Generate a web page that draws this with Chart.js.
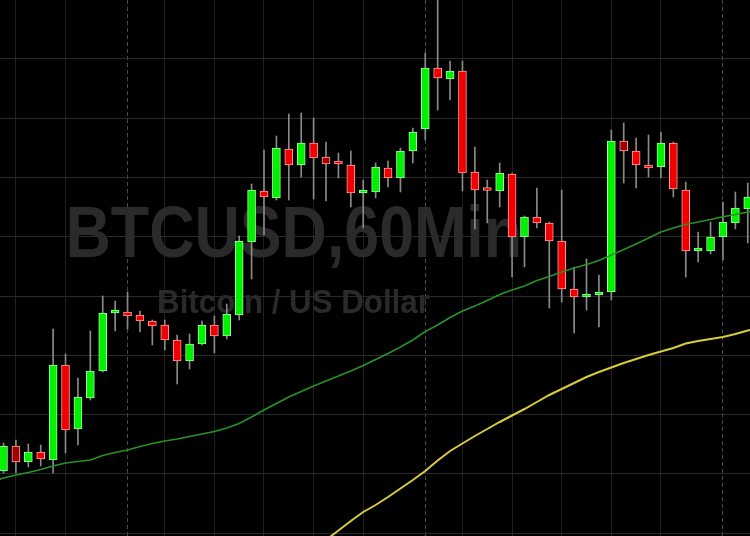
<!DOCTYPE html>
<html lang="en">
<head>
<meta charset="utf-8">
<title>BTCUSD,60Min</title>
<script src="https://cdn.jsdelivr.net/npm/chart.js@4.4.1/dist/chart.umd.min.js"></script>
<style>
  html, body { margin: 0; padding: 0; background: #000; }
  #wrap { width: 750px; height: 536px; }
</style>
</head>
<body>
<div id="wrap"><canvas id="grafica" width="750" height="536"></canvas></div>
<script>
// ── DATOS ─────────────────────────────────────────────────
// una vela por hora, índice 0..60
const velas = Array.from({ length: 61 }, (_, i) => i);

const apertura = [
  9165, 9190, 9174, 9184, 9176, 9271, 9207, 9238, 9265, 9323,
  9324, 9321, 9315, 9311, 9296, 9275, 9292, 9311, 9300, 9321,
  9394, 9445, 9438, 9487, 9471, 9493, 9479, 9473, 9471, 9443,
  9444, 9468, 9458, 9485, 9507, 9568, 9557, 9565, 9464, 9447,
  9445, 9462, 9399, 9419, 9413, 9395, 9347, 9339, 9341, 9344,
  9495, 9485, 9471, 9469, 9493, 9446, 9385, 9385, 9399, 9413,
  9427
];
const maximo = [
  9193, 9196, 9192, 9191, 9307, 9282, 9258, 9305, 9340, 9335,
  9344, 9325, 9316, 9316, 9301, 9302, 9315, 9320, 9332, 9400,
  9452, 9486, 9500, 9522, 9523, 9518, 9494, 9483, 9485, 9456,
  9473, 9475, 9488, 9508, 9583, 9640, 9575, 9575, 9489, 9456,
  9473, 9463, 9420, 9448, 9414, 9446, 9369, 9377, 9361, 9506,
  9513, 9498, 9501, 9504, 9494, 9454, 9404, 9414, 9434, 9444,
  9453
];
const minimo = [
  9163, 9163, 9169, 9170, 9163, 9183, 9191, 9236, 9264, 9305,
  9307, 9304, 9291, 9286, 9252, 9267, 9291, 9283, 9297, 9316,
  9357, 9401, 9436, 9436, 9459, 9437, 9435, 9458, 9429, 9408,
  9438, 9449, 9444, 9473, 9496, 9526, 9536, 9445, 9407, 9413,
  9429, 9359, 9369, 9408, 9328, 9334, 9303, 9326, 9309, 9336,
  9453, 9448, 9459, 9458, 9439, 9359, 9374, 9382, 9376, 9407,
  9393
];
const cierre = [
  9190, 9174, 9184, 9177, 9271, 9206, 9239, 9265, 9323, 9325,
  9320, 9315, 9310, 9296, 9275, 9292, 9311, 9300, 9322, 9395,
  9446, 9439, 9488, 9471, 9493, 9478, 9472, 9472, 9443, 9445,
  9469, 9458, 9485, 9504, 9568, 9558, 9565, 9463, 9446, 9445.5,
  9463, 9399, 9419, 9413, 9395, 9347, 9339, 9342, 9344, 9495,
  9485, 9471, 9468, 9493, 9447, 9385, 9385.5, 9399, 9414, 9428,
  9439
];
// velas bajistas pintadas en rojo oscuro
const rojoOscuro = [1, 26, 50];

// media móvil rápida (verde), desde la hora anterior a la primera vela visible
const mediaRapidaDesde = -1;
const mediaRapida = [
  9154,
  9158, 9161, 9163.5, 9166.5, 9170, 9173, 9174.5, 9176, 9180.5, 9183.5,
  9186, 9189.5, 9192.5, 9195, 9197, 9199.5, 9202, 9204.5, 9208, 9212.5,
  9219, 9226, 9232.5, 9239, 9244.5, 9250, 9255, 9260, 9265, 9270.5,
  9276.5, 9282.5, 9289, 9296, 9304.5, 9311, 9318.5, 9325, 9330, 9335.5,
  9341.5, 9346, 9350, 9355.5, 9359.5, 9364, 9368, 9371.5, 9375.5, 9381,
  9386.5, 9392, 9398, 9404, 9408, 9411.5, 9414, 9416.5, 9419.3, 9421.5,
  9424, 9426
];
// media móvil lenta (amarilla), desde la vela 26
const mediaLentaDesde = 26;
const mediaLenta = [
  9096, 9105.5, 9115, 9124, 9131, 9139, 9147.5, 9156, 9165, 9175.5,
  9185, 9192.5, 9200, 9207, 9214, 9220.5, 9227, 9234, 9241, 9247,
  9253, 9259, 9264, 9268.5, 9273, 9277, 9281, 9284.5, 9288, 9292.5,
  9295, 9297, 9299, 9302, 9305.5, 9308
];

// rejilla: cada 4 horas (continua) y cambio de día (discontinua)
const lineasHora = [1, 5, 13, 17, 21, 25, 29, 37, 41, 45, 49, 53];
const lineasDia = [10, 34, 58];
const nivelesPrecio = [9577.5, 9518, 9459, 9399.5, 9340, 9280.5, 9221.5, 9162, 9102.5];

const titulo = "BTCUSD,60Min";
const subtitulo = "Bitcoin / US Dollar";

// ── ESTILO ────────────────────────────────────────────────
const COLORES = {
  alcista: "#00f000", alcistaBorde: "#9cff9c",
  bajista: "#f00000", bajistaBorde: "#ff9c9c",
  oscuro: "#a00000",
  mecha: "#8a8a8a",
  mediaRapida: "#279227",
  mediaLenta: "#d8cc38",
  marca: "#2a2a2a"
};

function esAlcista(i) { return cierre[i] >= apertura[i]; }
function colorCuerpo(i) {
  if (esAlcista(i)) return COLORES.alcista;
  return rojoOscuro.includes(i) ? COLORES.oscuro : COLORES.bajista;
}
function colorBorde(i) {
  return esAlcista(i) ? COLORES.alcistaBorde : COLORES.bajistaBorde;
}

// ── MARCA DE AGUA ─────────────────────────────────────────
function pintarTexto(c, texto, fuente, color, izq, base, ancho) {
  c.font = fuente;
  const m = c.measureText(texto);
  const tinta = m.actualBoundingBoxLeft + m.actualBoundingBoxRight;
  const sx = ancho / tinta;
  c.save();
  c.translate(izq + m.actualBoundingBoxLeft * sx, base);
  c.scale(sx, 1);
  c.fillStyle = color;
  c.textBaseline = "alphabetic";
  c.fillText(texto, 0, 0);
  c.restore();
}

const marcaAgua = {
  id: "marcaAgua",
  beforeDatasetsDraw(chart) {
    const c = chart.ctx;
    pintarTexto(c, titulo, 'bold 73px "Liberation Sans", Arial, sans-serif', COLORES.marca, 69, 256.5, 450);
    pintarTexto(c, subtitulo, 'bold 33px "Liberation Sans", Arial, sans-serif', COLORES.marca, 159, 313, 271);
  }
};

// ── GRÁFICA ───────────────────────────────────────────────
const xMin = -0.282, xMax = 60.18;
const ejeSinTexto = { ticks: { display: false }, border: { display: false } };

new Chart(document.getElementById("grafica"), {
  type: "bar",
  data: {
    datasets: [
      {
        type: "line", label: "MA lenta",
        data: mediaLenta.map((v, j) => ({ x: mediaLentaDesde + j, y: v })),
        borderColor: COLORES.mediaLenta, borderWidth: 2, pointRadius: 0, order: 0
      },
      {
        type: "line", label: "MA rápida",
        data: mediaRapida.map((v, j) => ({ x: mediaRapidaDesde + j, y: v })),
        borderColor: COLORES.mediaRapida, borderWidth: 1.6, pointRadius: 0, order: 1
      },
      {
        label: "Cuerpos",
        data: velas.map(i => ({ x: i, y: [apertura[i], cierre[i]] })),
        backgroundColor: ctx => colorCuerpo(ctx.dataIndex),
        borderColor: ctx => colorBorde(ctx.dataIndex),
        borderWidth: 1, borderSkipped: false,
        barThickness: 8, minBarLength: 3, grouped: false, order: 2
      },
      {
        label: "Mechas",
        data: velas.map(i => ({ x: i, y: [minimo[i], maximo[i]] })),
        backgroundColor: COLORES.mecha,
        barThickness: 1, grouped: false, order: 3
      }
    ]
  },
  options: {
    responsive: false,
    animation: false,
    devicePixelRatio: 1,
    layout: { padding: 0 },
    plugins: { legend: { display: false }, tooltip: { enabled: false } },
    scales: {
      x: {
        type: "linear", min: xMin, max: xMax, offset: false,
        afterBuildTicks: s => { s.ticks = lineasHora.map(v => ({ value: v })); },
        grid: { color: "#202020", drawTicks: false, offset: false },
        ...ejeSinTexto
      },
      x2: {
        type: "linear", position: "bottom", min: xMin, max: xMax, offset: false,
        afterBuildTicks: s => { s.ticks = lineasDia.map(v => ({ value: v })); },
        grid: { color: "#4a4a4a", drawTicks: false, offset: false },
        ticks: { display: false },
        border: { display: false, dash: [4, 3] }
      },
      y: {
        type: "linear", min: 9100, max: 9636,
        afterBuildTicks: s => { s.ticks = nivelesPrecio.map(v => ({ value: v })); },
        grid: { color: "#2a2a2a", drawTicks: false },
        ...ejeSinTexto
      }
    }
  },
  plugins: [marcaAgua]
});
</script>
</body>
</html>
